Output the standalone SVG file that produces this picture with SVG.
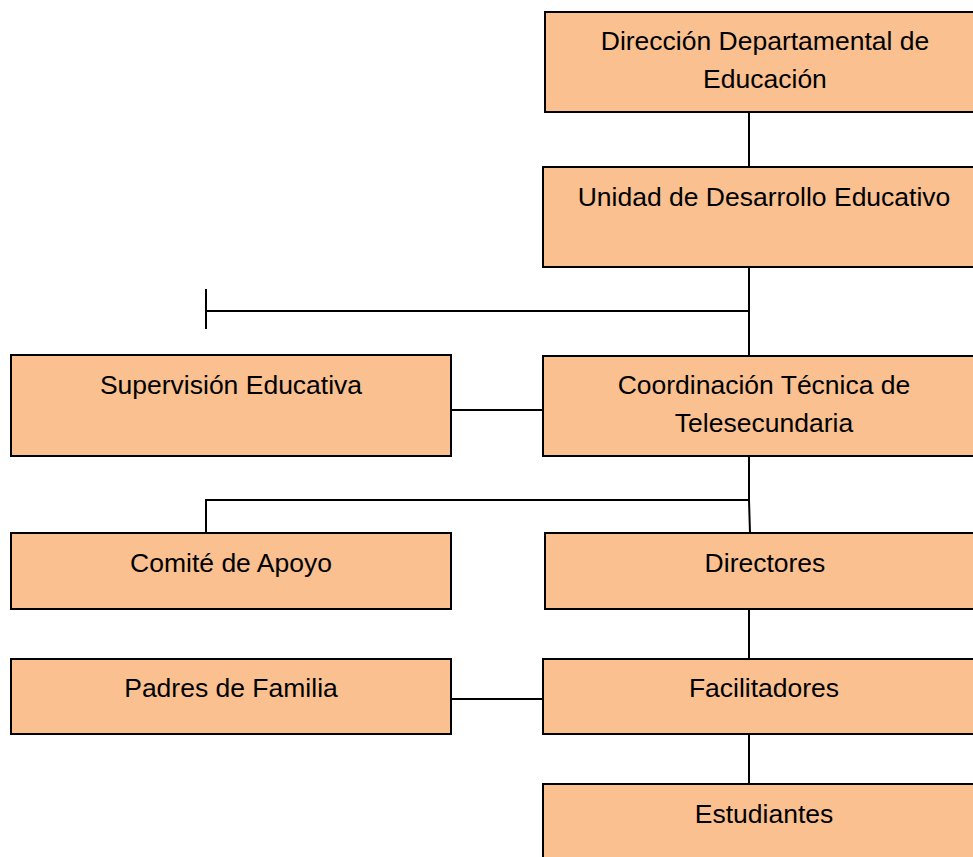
<svg xmlns="http://www.w3.org/2000/svg" width="973" height="857" viewBox="0 0 973 857">
<style>
.box{fill:#FAC090;stroke:#000;stroke-width:2}
.lbl{font-family:"Liberation Sans",Arial,sans-serif;font-size:26.5px;fill:#000;text-anchor:middle}
.ln{stroke:#000;stroke-width:2;fill:none}
</style>
<rect width="973" height="857" fill="#fff"/>
<g id="connectors">
<line class="ln" x1="749" y1="112" x2="749" y2="167"/>
<line class="ln" x1="749" y1="267" x2="749" y2="356"/>
<line class="ln" x1="206" y1="311" x2="749" y2="311" stroke="#333"/>
<line class="ln" x1="206" y1="289" x2="206" y2="329"/>
<line class="ln" x1="451" y1="410" x2="543" y2="410"/>
<polyline class="ln" points="749,456 749,500 750,533"/>
<polyline class="ln" points="749,500 206,500 206,533"/>
<line class="ln" x1="749" y1="609" x2="749" y2="659"/>
<line class="ln" x1="451" y1="699" x2="543" y2="699"/>
<line class="ln" x1="749" y1="734" x2="749" y2="784"/>
</g>
<g id="direccion">
<rect class="box" x="545" y="12" width="440" height="100"/>
<text class="lbl" x="765" y="50">Dirección Departamental de</text>
<text class="lbl" x="765" y="88">Educación</text>
</g>
<g id="unidad">
<rect class="box" x="543" y="167" width="442" height="100"/>
<text class="lbl" x="764" y="206">Unidad de Desarrollo Educativo</text>
</g>
<g id="supervision">
<rect class="box" x="11" y="355" width="440" height="101"/>
<text class="lbl" x="231" y="394">Supervisión Educativa</text>
</g>
<g id="coordinacion">
<rect class="box" x="543" y="356" width="442" height="100"/>
<text class="lbl" x="764" y="394">Coordinación Técnica de</text>
<text class="lbl" x="764" y="432">Telesecundaria</text>
</g>
<g id="comite">
<rect class="box" x="11" y="533" width="440" height="76"/>
<text class="lbl" x="231" y="572">Comité de Apoyo</text>
</g>
<g id="directores">
<rect class="box" x="545" y="533" width="440" height="76"/>
<text class="lbl" x="765" y="572">Directores</text>
</g>
<g id="padres">
<rect class="box" x="11" y="659" width="440" height="75"/>
<text class="lbl" x="231" y="697">Padres de Familia</text>
</g>
<g id="facilitadores">
<rect class="box" x="543" y="659" width="442" height="75"/>
<text class="lbl" x="764" y="697">Facilitadores</text>
</g>
<g id="estudiantes">
<rect class="box" x="543" y="784" width="442" height="90"/>
<text class="lbl" x="764" y="823">Estudiantes</text>
</g>
</svg>
